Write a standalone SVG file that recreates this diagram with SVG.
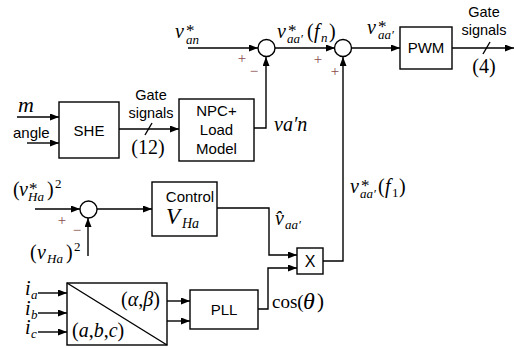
<svg xmlns="http://www.w3.org/2000/svg" width="514" height="348" viewBox="0 0 514 348">
<style>
.ln{fill:none;stroke:#000;stroke-width:1.4}
.bx{fill:#fff;stroke:#000;stroke-width:1.4}
.a{marker-end:url(#ah)}
.sf{font-family:"Liberation Sans",Arial,sans-serif;font-size:15px;fill:#000}
.g{font-family:"Liberation Sans",Arial,sans-serif;font-size:14.5px;fill:#000;text-anchor:middle}
.m{font-family:"Liberation Serif","Times New Roman",serif;font-style:italic;font-size:20px;fill:#000}
.u{font-style:normal}
.s{font-size:13px}
.st{font-style:normal;font-size:17px}
.pm{font-family:"Liberation Serif",serif;font-size:15px;fill:#8b4a4a;text-anchor:middle}
</style>
<defs>
<marker id="ah" markerUnits="userSpaceOnUse" markerWidth="9" markerHeight="7" refX="9" refY="3.5" orient="auto">
<path d="M0,0 L9,3.5 L0,7 z" fill="#000"/>
</marker>
</defs>

<g id="connectors">
<line class="ln a" x1="188" y1="48" x2="258" y2="48"/>
<line class="ln a" x1="275" y1="48" x2="335" y2="48"/>
<line class="ln a" x1="351" y1="48" x2="400" y2="48"/>
<line class="ln a" x1="452" y1="48" x2="514" y2="48"/>
<line class="ln" x1="483" y1="54" x2="490" y2="42"/>
<polyline class="ln a" points="254,128 266,128 266,57"/>
<line class="ln a" x1="17" y1="117" x2="59" y2="117"/>
<line class="ln a" x1="27" y1="143" x2="59" y2="143"/>
<line class="ln a" x1="119" y1="129" x2="179" y2="129"/>
<line class="ln" x1="145" y1="135" x2="152" y2="123"/>
<line class="ln a" x1="35" y1="209" x2="80" y2="209"/>
<line class="ln a" x1="97" y1="209" x2="152" y2="209"/>
<line class="ln a" x1="88" y1="256" x2="88" y2="218"/>
<polyline class="ln a" points="217,208 269,208 269,255 297,255"/>
<polyline class="ln a" points="258,309 268,309 268,268 297,268"/>
<polyline class="ln a" points="323,261 343,261 343,57"/>
<line class="ln a" x1="38" y1="293" x2="67" y2="293"/>
<line class="ln a" x1="38" y1="313" x2="67" y2="313"/>
<line class="ln a" x1="38" y1="332" x2="67" y2="332"/>
<line class="ln a" x1="167" y1="301" x2="190" y2="301"/>
<line class="ln a" x1="167" y1="321" x2="190" y2="321"/>
</g>

<g id="sum1"><circle class="bx" cx="266.5" cy="48" r="8.5"/></g>
<g id="sum2"><circle class="bx" cx="343" cy="48" r="8.5"/></g>
<g id="sum3"><circle class="bx" cx="88.5" cy="209.5" r="8.5"/></g>

<g id="she"><rect class="bx" x="59" y="102" width="60" height="56"/><text class="sf" x="89" y="136" text-anchor="middle">SHE</text></g>
<g id="npc"><rect class="bx" x="179" y="99" width="75" height="62"/>
<text class="sf" x="216.5" y="116" text-anchor="middle">NPC+</text>
<text class="sf" x="216.5" y="135" text-anchor="middle">Load</text>
<text class="sf" x="216.5" y="154" text-anchor="middle">Model</text></g>
<g id="pwm"><rect class="bx" x="400" y="27" width="52" height="42"/><text class="sf" x="426" y="53" text-anchor="middle">PWM</text></g>
<g id="control"><rect class="bx" x="152" y="182" width="65" height="54"/>
<text class="sf" x="190" y="202" text-anchor="middle">Control</text>
<text class="m" style="font-size:23px" x="166" y="224">V<tspan class="s" style="font-size:14px" x="182" y="228">Ha</tspan></text></g>
<g id="mult"><rect class="bx" x="297" y="248" width="26" height="26"/><text class="sf" x="310" y="267" text-anchor="middle" style="font-size:16px">X</text></g>
<g id="abc"><rect class="bx" x="67" y="283" width="100" height="62"/><line class="ln" x1="67" y1="283" x2="167" y2="345"/>
<text class="m" x="121" y="306"><tspan class="u">(</tspan>α<tspan class="u">,</tspan>β<tspan class="u">)</tspan></text>
<text class="m" x="72" y="337"><tspan class="u">(</tspan>a<tspan class="u">,</tspan>b<tspan class="u">,</tspan>c<tspan class="u">)</tspan></text></g>
<g id="pll"><rect class="bx" x="190" y="290" width="68" height="39"/><text class="sf" x="224" y="315" text-anchor="middle">PLL</text></g>

<g id="labels">
<text class="m" x="18" y="112" style="font-size:22px">m</text>
<text class="sf" x="13" y="138">angle</text>
<text class="g" x="151" y="100">Gate</text>
<text class="g" x="151" y="118">signals</text>
<text class="m u" x="148" y="154" text-anchor="middle">(12)</text>
<text class="g" x="484" y="17">Gate</text>
<text class="g" x="484" y="35">signals</text>
<text class="m u" x="484" y="73" text-anchor="middle">(4)</text>

<text class="m" x="175" y="38">v<tspan class="st" x="186" y="36">*</tspan><tspan class="s" x="186" y="44">an</tspan></text>
<text class="m" x="277" y="38">v<tspan class="st" x="288" y="36">*</tspan><tspan class="s" x="287" y="43">aa′</tspan><tspan class="u" x="307" y="38">(</tspan><tspan x="314" y="38">f</tspan><tspan class="s" x="321" y="42">n</tspan><tspan class="u" x="329" y="38">)</tspan></text>
<text class="m" x="367" y="34">v<tspan class="st" x="378" y="32">*</tspan><tspan class="s" x="378" y="39">aa′</tspan></text>
<text class="m" x="274" y="131">va′n</text>
<text class="m" x="350" y="193">v<tspan class="st" x="361" y="191">*</tspan><tspan class="s" x="360" y="198">aa′</tspan><tspan class="u" x="378" y="193">(</tspan><tspan x="385" y="193">f</tspan><tspan class="s u" x="392" y="197">1</tspan><tspan class="u" x="399" y="193">)</tspan></text>
<text class="m" x="275" y="225">v̂<tspan class="s" x="285" y="229">aa′</tspan></text>
<text class="m" x="13" y="196"><tspan class="u">(</tspan><tspan x="19" y="196">v</tspan><tspan class="st" x="29" y="194">*</tspan><tspan class="s" x="28" y="201">Ha</tspan><tspan class="u" x="47" y="196">)</tspan><tspan class="s u" x="55" y="188">2</tspan></text>
<text class="m" x="30" y="259"><tspan class="u">(</tspan><tspan x="37" y="259">v</tspan><tspan class="s" x="47" y="263">Ha</tspan><tspan class="u" x="66" y="259">)</tspan><tspan class="s u" x="74" y="251">2</tspan></text>
<text class="m" x="25" y="295">i<tspan class="s" x="31" y="299">a</tspan></text>
<text class="m" x="25" y="315">i<tspan class="s" x="31" y="319">b</tspan></text>
<text class="m" x="25" y="334">i<tspan class="s" x="31" y="338">c</tspan></text>
<text class="m u" x="272" y="308" style="font-size:19px">cos(<tspan class="m" style="font-size:24px" x="303" y="309">θ</tspan><tspan x="317" y="308" style="font-size:21px">)</tspan></text>

<text class="pm" x="242" y="63">+</text>
<text class="pm" x="254" y="76">−</text>
<text class="pm" x="318" y="64">+</text>
<text class="pm" x="335" y="76">+</text>
<text class="pm" x="62" y="225">+</text>
<text class="pm" x="77" y="235">−</text>
</g>
</svg>
